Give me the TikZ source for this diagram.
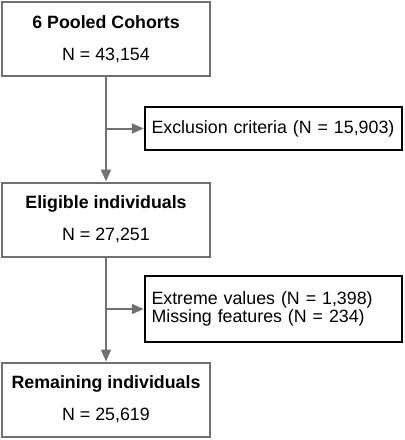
\documentclass[tikz,border=0pt]{standalone}
\usepackage{fontspec}
\setmainfont{Liberation Sans}
\usetikzlibrary{arrows.meta}
\definecolor{flowgray}{RGB}{112,112,112}
\begin{document}
\begin{tikzpicture}
  [x=1pt,y=-1pt,font=\fontsize{17.8}{32}\selectfont,
   stage/.style={draw=flowgray,line width=2pt,minimum width=208pt,minimum height=74pt,align=center},
   drop/.style={draw=black,line width=2.5pt,text width=244pt,inner xsep=6.5pt,align=left,font=\fontsize{17.8}{17.5}\selectfont},
   flow/.style={draw=flowgray,line width=2pt,-{Triangle[length=12pt,width=10pt]}}]
  \useasboundingbox (0,0) rectangle (405,440);
  \node[stage] (n1) at (106,39)    {\textbf{6 Pooled Cohorts}\\N = 43,154};
  \node[stage] (n2) at (106,219.5) {\textbf{Eligible individuals}\\N = 27,251};
  \node[stage] (n3) at (106,399.5) {\textbf{Remaining individuals}\\N = 25,619};
  \node[drop,minimum height=43pt] (e1) at (273.5,128.5) {Exclusion criteria (N = 15,903)};
  \node[drop,minimum height=66pt] (e2) at (273.5,309)   {Extreme values (N = 1,398)\\Missing features (N = 234)};

  \coordinate (j1) at (n1.south |- e1.west);
  \coordinate (j2) at (n2.south |- e2.west);

  \foreach \from/\to in {n1/n2,n2/n3,j1/e1,j2/e2}
    \draw[flow] (\from) -- (\to);
\end{tikzpicture}
\end{document}
